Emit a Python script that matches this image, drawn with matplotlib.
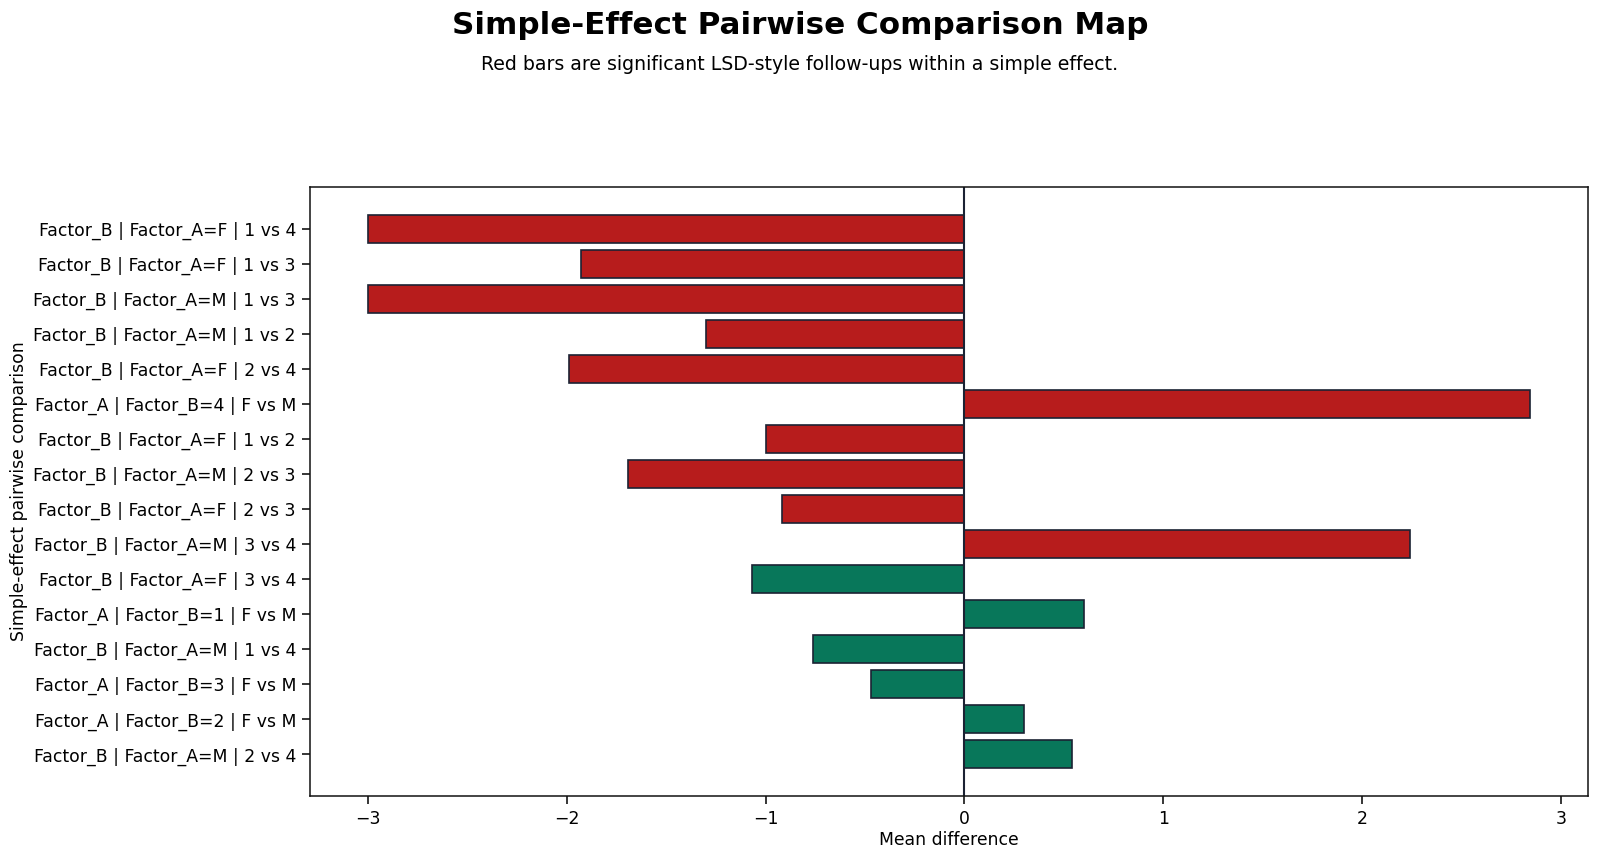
import matplotlib
matplotlib.use("Agg")
import matplotlib.pyplot as plt

labels = [
    "Factor_B | Factor_A=F | 1 vs 4",
    "Factor_B | Factor_A=F | 1 vs 3",
    "Factor_B | Factor_A=M | 1 vs 3",
    "Factor_B | Factor_A=M | 1 vs 2",
    "Factor_B | Factor_A=F | 2 vs 4",
    "Factor_A | Factor_B=4 | F vs M",
    "Factor_B | Factor_A=F | 1 vs 2",
    "Factor_B | Factor_A=M | 2 vs 3",
    "Factor_B | Factor_A=F | 2 vs 3",
    "Factor_B | Factor_A=M | 3 vs 4",
    "Factor_B | Factor_A=F | 3 vs 4",
    "Factor_A | Factor_B=1 | F vs M",
    "Factor_B | Factor_A=M | 1 vs 4",
    "Factor_A | Factor_B=3 | F vs M",
    "Factor_A | Factor_B=2 | F vs M",
    "Factor_B | Factor_A=M | 2 vs 4",
]
mean_diff = [-3.00, -1.93, -3.00, -1.30, -1.99, 2.845, -1.00, -1.69, -0.92, 2.24,
             -1.07, 0.60, -0.76, -0.47, 0.30, 0.54]
significant = [True] * 10 + [False] * 6

RED = "#b71c1c"
GREEN = "#08775a"
EDGE = "#1b2233"

fig = plt.figure(figsize=(16, 8.6), dpi=100)
ax = fig.add_axes([310/1600, 1 - 796/860, (1588-310)/1600, (796-187)/860])

ypos = list(range(len(labels)))[::-1]
colors = [RED if s else GREEN for s in significant]
ax.barh(ypos, mean_diff, height=0.8, color=colors, edgecolor=EDGE, linewidth=1.2)
ax.axvline(0, color=EDGE, linewidth=1.5)
ax.set_yticks(ypos)
ax.set_yticklabels(labels)
ax.tick_params(axis="both", labelsize=12.4, length=5.8, width=1.1, pad=4.3)
ax.set_xlabel("Mean difference", fontsize=12.4, labelpad=2)
ax.set_ylabel("Simple-effect pairwise comparison", fontsize=12.4)
for s in ax.spines.values():
    s.set_color("#111111")
    s.set_linewidth(1.1)

fig.suptitle("Simple-Effect Pairwise Comparison Map", fontsize=22.3, fontweight="bold", y=1 - 26/860, va="center")
fig.text(0.5, 1 - 64/860, "Red bars are significant LSD-style follow-ups within a simple effect.",
         ha="center", va="center", fontsize=13.6)

fig.savefig("out.png", dpi=100)
